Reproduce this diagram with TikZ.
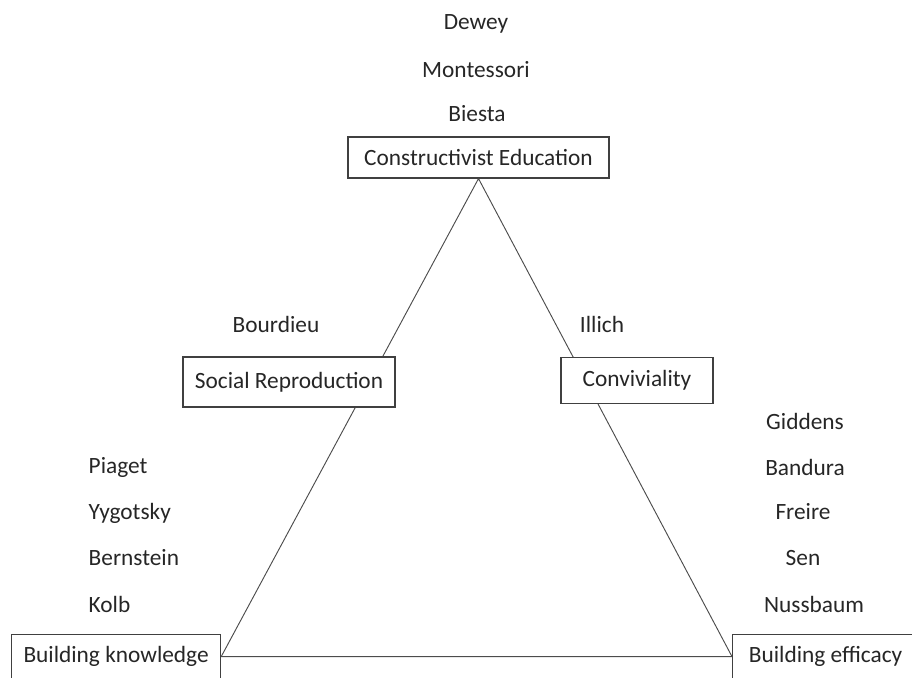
\documentclass[tikz,border=0pt]{standalone}
\usepackage{fontspec}
\setmainfont{Carlito}
\usepackage{tikz}
\usetikzlibrary{positioning}

\begin{document}
\begin{tikzpicture}[x=0.75pt,y=-0.75pt,
        every node/.style={text=black!85,font=\fontsize{17.5}{20}\selectfont},
        concept/.style={draw=black!75,fill=white,line width=0.9pt,minimum height=34pt,inner xsep=6pt},
        link/.style={draw=black!70,line width=0.7pt}]
        \clip (0,0) rectangle (912,677);

        \node[concept,minimum width=195.75pt,minimum height=30.75pt] (cons) at (478.5,157.5) {Constructivist Education};
        \node[concept,minimum width=156.75pt,minimum height=33pt,anchor=north west] (know) at (11,634) {Building knowledge};
        \node[concept,minimum width=139.5pt,minimum height=33pt,anchor=north west] (eff) at (732,634) {Building efficacy};

        \path[link] (cons.south) -- (know.east)
                (cons.south) -- (eff.west)
                (know.east) -- (eff.west);

        \node[concept,minimum width=159pt,minimum height=37.5pt] (soc) at (289,382) {Social Reproduction};
        \node[concept,minimum width=114pt,minimum height=34.5pt] (conv) at (637,380.5) {Conviviality};

        % thinkers
        \node (dewey) at (476,24) {Dewey};
        \node (mont) at (476,70) {Montessori};
        \node (biesta) at (477,114) {Biesta};
        \node (bourd) at (276,324) {Bourdieu};
        \node (illich) at (602,324) {Illich};

        \node[anchor=west] (piaget) at (84,467) {Piaget};
        \node[anchor=west] (vyg) at (84,513) {Yygotsky};
        \node[anchor=west] (bern) at (84,558) {Bernstein};
        \node[anchor=west] (kolb) at (84,604) {Kolb};

        \node (gidd) at (805,421) {Giddens};
        \node (band) at (805,467) {Bandura};
        \node (frei) at (803,512) {Freire};
        \node (sen) at (803,558) {Sen};
        \node (nuss) at (814,604) {Nussbaum};
\end{tikzpicture}
\end{document}
